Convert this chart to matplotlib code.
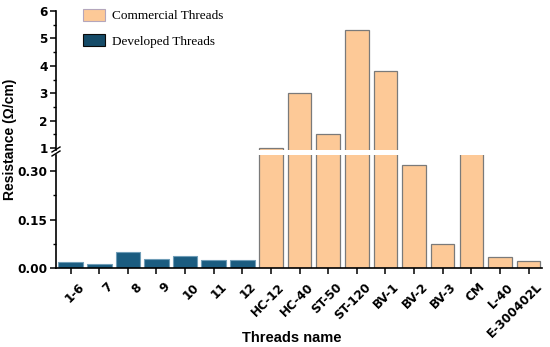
import matplotlib
matplotlib.use("Agg")
import matplotlib.pyplot as plt
from matplotlib.patches import Patch
from matplotlib.lines import Line2D
from matplotlib.ticker import MultipleLocator
import matplotlib.transforms as mtrans
import numpy as np

developed_names = ["1-6", "7", "8", "9", "10", "11", "12"]
developed_vals = [0.018, 0.013, 0.049, 0.028, 0.037, 0.026, 0.026]
commercial_names = ["HC-12", "HC-40", "ST-50", "ST-120", "BV-1", "BV-2", "BV-3",
                    "CM", "L-40", "E-300402L"]
commercial_vals = [1.02, 3.0, 1.5, 5.3, 3.8, 0.32, 0.074, 0.5, 0.034, 0.021]
upper_ticks = [1, 2, 3, 4, 5, 6]
lower_ticks = [0.0, 0.15, 0.30]
lower_ticklabels = ["0.00", "0.15", "0.30"]

names = developed_names + commercial_names
x_dev = np.arange(len(developed_names))
x_com = np.arange(len(developed_names), len(names))

c_dev = "#1b5c80"
c_dev_edge = "#6f9db7"
c_com = "#fdc997"
c_com_edge = "#7a7a7a"

W, H = 550, 347
fig = plt.figure(figsize=(5.5, 3.47), dpi=100)

def fx(px):
    return px / W

def fy(py):
    return (H - py) / H

left, right = 56, 542
ax_up = fig.add_axes([fx(left), fy(150), fx(right - left), fy(11) - fy(150)])
ax_lo = fig.add_axes([fx(left), fy(268), fx(right - left), fy(155) - fy(268)])

for ax in (ax_up, ax_lo):
    ax.bar(x_dev, developed_vals, width=0.86, color=c_dev, edgecolor=c_dev_edge, linewidth=0.8)
    ax.bar(x_com, commercial_vals, width=0.82, color=c_com, edgecolor=c_com_edge, linewidth=0.9)
    ax.set_xlim(-0.51, len(names) - 0.53)
    for s in ("top", "right"):
        ax.spines[s].set_visible(False)
    ax.spines["left"].set_linewidth(1.2)
    ax.spines["bottom"].set_linewidth(1.2)
    ax.tick_params(axis="y", which="major", direction="out", length=4, width=1.1, pad=2)
    ax.tick_params(axis="y", which="minor", direction="out", length=2.5, width=1.0)

ax_up.set_ylim(0.93, 6)
ax_up.set_yticks(upper_ticks)
ax_up.yaxis.set_minor_locator(MultipleLocator(0.5))
ax_up.spines["bottom"].set_visible(False)
ax_up.set_xticks([])

ax_lo.set_ylim(0, 0.35)
ax_lo.set_yticks(lower_ticks)
ax_lo.set_yticklabels(lower_ticklabels)
ax_lo.yaxis.set_minor_locator(MultipleLocator(0.075))
ax_lo.set_xticks(np.arange(len(names)))
ax_lo.set_xticklabels(names, rotation=45, ha="right", rotation_mode="anchor")
ax_lo.tick_params(axis="x", direction="out", length=4, width=1.1, pad=5)

for ax in (ax_up, ax_lo):
    for lab in ax.get_yticklabels() + ax.get_xticklabels():
        lab.set_fontfamily("DejaVu Sans")
        lab.set_fontweight("bold")
        lab.set_fontsize(8.7)

offset = mtrans.ScaledTranslation(7 / 100, 0, fig.dpi_scale_trans)
for lab in ax_lo.get_xticklabels():
    lab.set_transform(lab.get_transform() + offset)

fig.text(fx(292), fy(342), "Threads name", ha="center", va="baseline",
         fontfamily="Liberation Sans", fontweight="bold", fontsize=10.5)
fig.text(fx(10), fy(139), "Resistance (Ω/cm)", rotation=90, ha="center", va="center",
         fontfamily="Liberation Sans", fontweight="bold", fontsize=10)

# break marks on the left spine
for yy in (149.5, 153.5):
    fig.add_artist(Line2D([fx(left - 4), fx(left + 4)], [fy(yy + 2.5), fy(yy - 2.5)],
                          color="black", lw=1.0))

handles = [Patch(facecolor=c_com, edgecolor="#b4a6bc", linewidth=0.8, label="Commercial Threads"),
           Patch(facecolor="#154b68", edgecolor="#0a0a0a", linewidth=0.8, label="Developed Threads")]
fig.legend(handles=handles, loc="upper left", bbox_to_anchor=(fx(83), fy(9)), frameon=False,
           prop=dict(family="Liberation Serif", size=9.5), handlelength=1.65, handleheight=1.0,
           labelspacing=0.9, handletextpad=0.55, borderaxespad=0, borderpad=0)

fig.savefig("out.png", dpi=100)
